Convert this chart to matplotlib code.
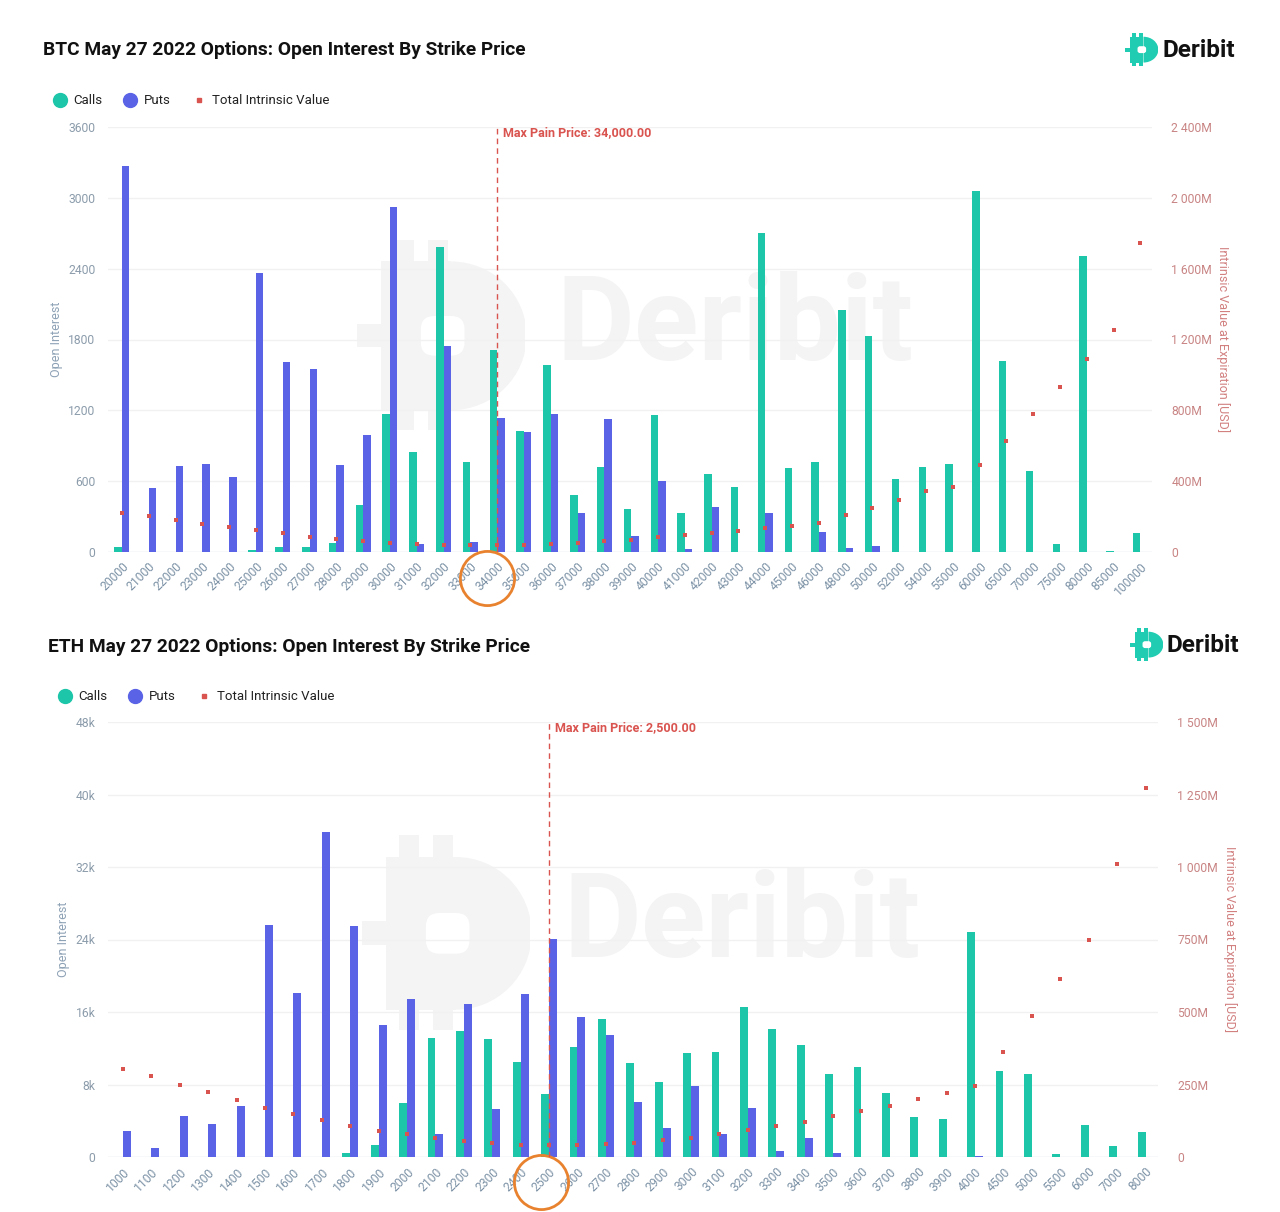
import matplotlib
matplotlib.use("Agg")
import matplotlib.pyplot as plt
import numpy as np
from matplotlib.lines import Line2D
from matplotlib.patches import Rectangle, Wedge, FancyBboxPatch
from matplotlib.transforms import blended_transform_factory

plt.rcParams['font.family'] = ['Roboto', 'DejaVu Sans']

# ---------------- data ----------------
btc_strikes = ["20000", "21000", "22000", "23000", "24000", "25000", "26000", "27000", "28000",
               "29000", "30000", "31000", "32000", "33000", "34000", "35000", "36000", "37000",
               "38000", "39000", "40000", "41000", "42000", "43000", "44000", "45000", "46000",
               "48000", "50000", "52000", "54000", "55000", "60000", "65000", "70000", "75000",
               "80000", "85000", "100000"]
btc_calls = [40, 0, 0, 0, 0, 15, 40, 40, 74, 402, 1172, 846, 2587, 764, 1707, 1025, 1585, 481,
             719, 368, 1163, 331, 659, 549, 2700, 708, 764, 2049, 1831, 620, 719, 747, 3062,
             1616, 685, 68, 2505, 8, 158]
btc_puts = [3270, 545, 727, 747, 637, 2366, 1613, 1551, 736, 991, 2926, 68, 1749, 85, 1135,
            1016, 1172, 331, 1126, 133, 603, 23, 385, 0, 331, 0, 167, 31, 48, 0, 0, 0, 0, 0,
            0, 0, 0, 0, 0]
btc_intrinsic_m = [221, 204, 179, 160, 142, 125, 106, 87, 75, 60, 53, 45, 42, 40, 40, 40, 47,
                   51, 64, 70, 83, 94, 106, 117, 138, 147, 166, 208, 251, 294, 342, 366, 493,
                   628, 781, 932, 1091, 1253, 1747]
btc_max_pain = "34000"
btc_left_ticks = [0, 600, 1200, 1800, 2400, 3000, 3600]
btc_left_labels = ["0", "600", "1200", "1800", "2400", "3000", "3600"]
btc_right_ticks = [0, 400, 800, 1200, 1600, 2000, 2400]
btc_right_labels = ["0", "400M", "800M", "1 200M", "1 600M", "2 000M", "2 400M"]

eth_strikes = ["1000", "1100", "1200", "1300", "1400", "1500", "1600", "1700", "1800", "1900",
               "2000", "2100", "2200", "2300", "2400", "2500", "2600", "2700", "2800", "2900",
               "3000", "3100", "3200", "3300", "3400", "3500", "3600", "3700", "3800", "3900",
               "4000", "4500", "5000", "5500", "6000", "7000", "8000"]
eth_calls = [0, 0, 0, 0, 0, 0, 0, 0, 442, 1290, 5973, 13163, 13900, 13050, 10470, 6930, 12130,
             15190, 10360, 8222, 11430, 11540, 16590, 14120, 12350, 9144, 9881, 7042, 4461,
             4203, 24850, 9512, 9144, 295, 3503, 1254, 2802]
eth_puts = [2913, 1032, 4572, 3613, 5641, 25548, 18140, 35910, 25440, 14600, 17400, 2580,
            16850, 5310, 18030, 24040, 15410, 13420, 6084, 3171, 7853, 2581, 5420, 664, 2100,
            442, 0, 0, 0, 0, 100, 0, 0, 0, 0, 0, 0]
eth_intrinsic_m = [305, 280, 250, 225, 196, 169, 147, 126, 107, 89, 78, 65, 55, 48, 41, 41, 40,
                   46, 50, 58, 67, 79, 93, 107, 121, 141, 159, 177, 199, 221, 244, 362, 486, 615,
                   749, 1009, 1274]
eth_max_pain = "2500"
eth_left_ticks = [0, 8000, 16000, 24000, 32000, 40000, 48000]
eth_left_labels = ["0", "8k", "16k", "24k", "32k", "40k", "48k"]
eth_right_ticks = [0, 250, 500, 750, 1000, 1250, 1500]
eth_right_labels = ["0", "250M", "500M", "750M", "1 000M", "1 250M", "1 500M"]

# ---------------- style ----------------
CALL = "#1dc6a9"
PUT = "#5a63e6"
RED = "#d9534f"
LEFT_TXT = "#8c9cab"
RIGHT_TXT = "#c98484"
XT_TXT = "#7c92a6"
GRID = "#f1f1f1"
WM = "#f4f4f4"
ORANGE = "#e8822f"

W, H = 1280, 1212
fig = plt.figure(figsize=(W / 100, H / 100), dpi=100)
fig.patch.set_facecolor("white")


def fx(px):
    return px / W


def fy(py):
    return 1 - py / H


def draw_icon(axi, color, bg):
    axi.set_xlim(0, 1)
    axi.set_ylim(0, 1.15)
    axi.axis("off")
    for x0 in (0.22, 0.42):
        axi.add_patch(Rectangle((x0, 0.95), 0.12, 0.2, color=color, lw=0))
        axi.add_patch(Rectangle((x0, 0.0), 0.12, 0.2, color=color, lw=0))
    axi.add_patch(Rectangle((0.14, 0.12), 0.42, 0.9, color=color, lw=0))
    axi.add_patch(Wedge((0.56, 0.57), 0.45, -90, 90, color=color, lw=0))
    axi.add_patch(Rectangle((0.0, 0.50), 0.2, 0.14, color=color, lw=0))
    axi.add_patch(FancyBboxPatch((0.38, 0.45), 0.26, 0.24,
                                 boxstyle="round,pad=0,rounding_size=0.08",
                                 color=bg, lw=0))


def panel(title, title_xy, strikes, calls, puts, intr, max_pain, lticks, llabels,
          rticks, rlabels, ax_px, xlim, legend_px, logo_px, wm_icon, wm_text, circle_off):
    left, top, right, bottom = ax_px
    ax = fig.add_axes([fx(left), fy(bottom), fx(right - left), (bottom - top) / H])
    ax.patch.set_alpha(0)
    x = np.arange(len(strikes))
    w = 0.28
    ax.bar(x - w / 2, calls, width=w, color=CALL, zorder=3, lw=0)
    ax.bar(x + w / 2, puts, width=w, color=PUT, zorder=3, lw=0)
    ax.set_xlim(*xlim)
    ax.set_ylim(lticks[0], lticks[-1])
    ax.set_yticks(lticks)
    ax.set_yticklabels(llabels)
    ax.set_xticks(x)
    ax.set_xticklabels(strikes, rotation=45, ha="right", rotation_mode="anchor")
    ax.tick_params(axis="x", length=0, pad=6, labelsize=8.7, labelcolor=XT_TXT)
    ax.tick_params(axis="y", length=0, pad=9, labelsize=8.7, labelcolor=LEFT_TXT)
    for s in ax.spines.values():
        s.set_visible(False)
    ax.grid(axis="y", color=GRID, lw=1, zorder=0)
    ax.axhline(0, color="#e4e8ec", lw=1, zorder=1)
    ax.set_ylabel("Open Interest", color="#8ea2b6", fontsize=9, labelpad=4)

    ax2 = ax.twinx()
    ax2.scatter(x, intr, marker="s", s=9, color=RED, zorder=5, lw=0)
    ax2.set_ylim(rticks[0], rticks[-1])
    ax2.set_yticks(rticks)
    ax2.set_yticklabels(rlabels)
    ax2.tick_params(axis="y", length=0, pad=14, labelsize=8.7, labelcolor=RIGHT_TXT)
    for s in ax2.spines.values():
        s.set_visible(False)
    ax2.set_ylabel("Intrinsic Value at Expiration [USD]", color="#d28080", fontsize=9,
                   rotation=270, labelpad=13)

    mp = strikes.index(max_pain)
    ax2.axvline(mp, color=RED, lw=1, ls=(0, (4, 3)), zorder=6)
    ax2.annotate("Max Pain Price: {:,.2f}".format(float(max_pain)), xy=(mp, 1),
                 xycoords=("data", "axes fraction"), xytext=(4, 1),
                 textcoords="offset points", color=RED, fontsize=9, fontweight="bold",
                 va="top", ha="left")

    tr = blended_transform_factory(ax.transData, ax.transAxes)
    ax.plot([mp + circle_off[0]], [circle_off[1]], marker="o", ms=39, mfc="none",
            mec=ORANGE, mew=2, transform=tr, clip_on=False, zorder=10)

    fig.text(fx(title_xy[0]), fy(title_xy[1]), title, fontsize=13.8, fontweight="bold",
             color="#111111", va="center", ha="left")

    handles = [Line2D([], [], ls="", marker="o", ms=10, color=CALL),
               Line2D([], [], ls="", marker="o", ms=10, color=PUT),
               Line2D([], [], ls="", marker="s", ms=3, color=RED)]
    leg = fig.legend(handles, ["Calls", "Puts", "Total Intrinsic Value"], ncol=3,
                     loc="center left", bbox_to_anchor=(fx(legend_px[0]), fy(legend_px[1])),
                     frameon=False, fontsize=9.5, handlelength=1.0, handletextpad=0.5,
                     columnspacing=1.65, borderpad=0, borderaxespad=0)
    for t in leg.get_texts():
        t.set_color("#222222")

    lx0, ly0, lx1, ly1 = logo_px
    axl = fig.add_axes([fx(lx0), fy(ly1), fx(lx1 - lx0), (ly1 - ly0) / H])
    draw_icon(axl, "#20cdb2", "white")
    fig.text(fx(lx1 + 4), fy((ly0 + ly1) / 2 + 1), "Deribit", fontsize=17.5, fontweight="bold",
             color="#111111", va="center", ha="left")

    ix0, iy0, ix1, iy1 = wm_icon
    axw = fig.add_axes([fx(ix0), fy(iy1), fx(ix1 - ix0), (iy1 - iy0) / H], zorder=-5)
    draw_icon(axw, WM, "white")
    tx, ty, tsize = wm_text
    fig.text(fx(tx), fy(ty), "Deribit", fontsize=tsize, fontweight="bold", color=WM,
             va="baseline", ha="left", zorder=-6)
    return ax


panel("BTC May 27 2022 Options: Open Interest By Strike Price", (43, 50),
      btc_strikes, btc_calls, btc_puts, btc_intrinsic_m, btc_max_pain,
      btc_left_ticks, btc_left_labels, btc_right_ticks, btc_right_labels,
      (108, 127, 1152, 552), (-0.52, 38.43), (53, 101), (1125, 33, 1158, 66),
      (357, 240, 525, 430), (556, 360, 86), (-0.38, -0.062))

panel("ETH May 27 2022 Options: Open Interest By Strike Price", (48, 647),
      eth_strikes, eth_calls, eth_puts, eth_intrinsic_m, eth_max_pain,
      eth_left_ticks, eth_left_labels, eth_right_ticks, eth_right_labels,
      (108, 722, 1158, 1157), (-0.53, 36.44), (58, 697), (1130, 628, 1163, 661),
      (362, 835, 530, 1030), (563, 957, 86), (-0.28, -0.058))

fig.savefig("out.png", dpi=100, facecolor="white")
